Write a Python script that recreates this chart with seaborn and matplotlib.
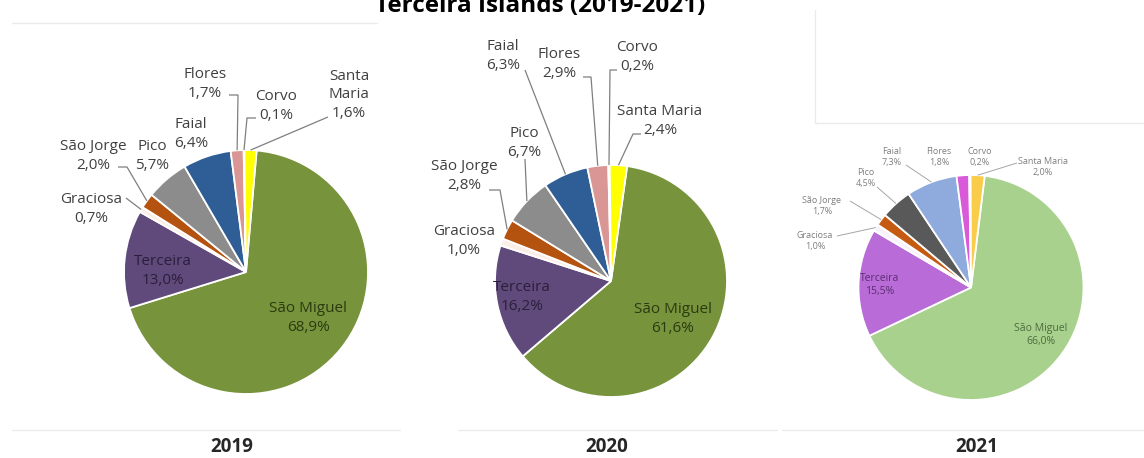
import numpy as np
import matplotlib
matplotlib.use("Agg")
import matplotlib.pyplot as plt
import seaborn as sns

# ---- data -------------------------------------------------------------
islands = ["São Miguel", "Terceira", "Graciosa", "São Jorge", "Pico",
           "Faial", "Flores", "Corvo", "Santa Maria"]
share_2019 = [68.9, 13.0, 0.7, 2.0, 5.7, 6.4, 1.7, 0.1, 1.6]
share_2020 = [61.6, 16.2, 1.0, 2.8, 6.7, 6.3, 2.9, 0.2, 2.4]
share_2021 = [66.0, 15.5, 1.0, 1.7, 4.5, 7.3, 1.8, 0.2, 2.0]
years = ["2019", "2020", "2021"]
title_text = "Terceira Islands (2019-2021)"

colors_early = ["#77933C", "#604A7B", "#FBEEE6", "#B4520F", "#8C8C8C",
                "#2F5E96", "#D99694", "#F2F2F2", "#FFFF00"]
colors_2021 = ["#A9D18E", "#B96BD8", "#F7F2FB", "#C55A11", "#595959",
               "#8FAADC", "#D95AD9", "#F2F2F2", "#F9CC4A"]

# ---- layout (pixel units, origin at top-left) -------------------------
W, H = 1144, 458

panels = {
    "2019": dict(values=share_2019, colors=colors_early, center=(246, 272),
                 radius=122, start=85, year_xy=(232, 447),
                 out_size=11, out_color="#404040", out_ls=1.35,
                 in_size=11, in_ls=1.35, lead_color="#7F7F7F", lead_lw=0.9,
                 inner_colors={"São Miguel": "#2B3A10", "Terceira": "#2A1F3B"},
                 names={"Santa Maria": "Santa\nMaria"},
                 labels={
                     "São Miguel": ((308, 318), None),
                     "Terceira": ((163, 271), None),
                     "Graciosa": ((91, 209), [(126, 198)]),
                     "São Jorge": ((93, 156), [(118, 167), (127, 167)]),
                     "Pico": ((152, 156), None),
                     "Faial": ((191, 134), None),
                     "Flores": ((205, 84), [(229, 95), (238, 95)]),
                     "Corvo": ((276, 106), [(256, 118), (247, 118)]),
                     "Santa Maria": ((349, 95), [(328, 117)]),
                 }),
    "2020": dict(values=share_2020, colors=colors_early, center=(611, 281),
                 radius=116, start=82, year_xy=(607, 447),
                 out_size=11, out_color="#404040", out_ls=1.35,
                 in_size=11, in_ls=1.35, lead_color="#7F7F7F", lead_lw=0.9,
                 inner_colors={"São Miguel": "#2B3A10", "Terceira": "#2A1F3B"},
                 names={},
                 labels={
                     "São Miguel": ((673, 319), None),
                     "Terceira": ((522, 297), None),
                     "Graciosa": ((464, 241), None),
                     "São Jorge": ((464, 176), [(489, 190), (500, 190)]),
                     "Pico": ((524, 143), [(525, 159)]),
                     "Faial": ((503, 56), [(525, 70)]),
                     "Flores": ((559, 64), [(583, 77), (591, 77)]),
                     "Corvo": ((637, 57), [(617, 70), (610, 70)]),
                     "Santa Maria": ((660, 121), [(641, 134), (633, 134)]),
                 }),
    "2021": dict(values=share_2021, colors=colors_2021, center=(971, 287.5),
                 radius=112.5, start=83, year_xy=(977, 447),
                 out_size=6.5, out_color="#7F7F7F", out_ls=1.2,
                 in_size=7.5, in_ls=1.3, lead_color="#A6A6A6", lead_lw=0.7,
                 inner_colors={"São Miguel": "#4D6B3C", "Terceira": "#5A2E6E"},
                 names={},
                 labels={
                     "São Miguel": ((1041, 335), None),
                     "Terceira": ((880, 285), None),
                     "Graciosa": ((815, 241), [(837, 236)]),
                     "São Jorge": ((822, 206), [(850, 201)]),
                     "Pico": ((866, 178), [(877, 187)]),
                     "Faial": ((892, 157), [(906, 165)]),
                     "Flores": ((939, 157), None),
                     "Corvo": ((980, 157), None),
                     "Santa Maria": ((1043, 167), [(1017, 163)]),
                 }),
}

# ---- style ------------------------------------------------------------
sns.set_theme(style="white")
plt.rcParams["font.family"] = ["Open Sans", "DejaVu Sans"]

fig = plt.figure(figsize=(W / 100, H / 100), dpi=100)
fig.patch.set_facecolor("white")
ax = fig.add_axes([0, 0, 1, 1])


def fmt_pct(v):
    return f"{v:.1f}%".replace(".", ",")


for year in years:
    p = panels[year]
    cx, cy = p["center"]
    wedges, _ = ax.pie(p["values"], colors=sns.color_palette(p["colors"]),
                       startangle=p["start"], counterclock=False,
                       center=(cx, H - cy), radius=p["radius"],
                       wedgeprops=dict(edgecolor="white", linewidth=1.3))
    for name, w, v in zip(islands, wedges, p["values"]):
        (lx, ly), lead = p["labels"][name]
        shown = p["names"].get(name, name)
        text = f"{shown}\n{fmt_pct(v)}"
        inner = name in p["inner_colors"]
        ax.text(lx, H - ly, text, ha="center", va="center",
                fontsize=p["in_size"] if inner else p["out_size"],
                color=p["inner_colors"][name] if inner else p["out_color"],
                linespacing=p["in_ls"] if inner else p["out_ls"])
        if lead:
            mid = np.deg2rad((w.theta1 + w.theta2) / 2)
            rx = w.center[0] + w.r * np.cos(mid)
            ry = w.center[1] + w.r * np.sin(mid)
            xs = [pt[0] for pt in lead] + [rx]
            ys = [H - pt[1] for pt in lead] + [ry]
            ax.plot(xs, ys, color=p["lead_color"], lw=p["lead_lw"],
                    solid_capstyle="butt")
    yx, yy = p["year_xy"]
    ax.text(yx, H - yy, year, ha="center", va="center", fontsize=13.5,
            fontweight="bold", color="#262626")

# faint panel frames
frame_kw = dict(color="#EBEBEB", lw=1)
ax.plot([12, 377], [H - 23, H - 23], **frame_kw)
ax.plot([12, 400], [H - 430, H - 430], **frame_kw)
ax.plot([458, 777], [H - 430, H - 430], **frame_kw)
ax.plot([782, 1144], [H - 430, H - 430], **frame_kw)
ax.plot([815, 815], [H - 10, H - 123], **frame_kw)
ax.plot([815, 1144], [H - 123, H - 123], **frame_kw)

# title (second line of a heading running off the top edge)
ax.text(540, H - 12, title_text, ha="center", va="baseline", fontsize=17.5,
        fontweight="bold", color="black")

ax.set_xlim(0, W)
ax.set_ylim(0, H)
ax.set_aspect("auto")
ax.axis("off")

fig.savefig("out.png", dpi=100, facecolor="white")
